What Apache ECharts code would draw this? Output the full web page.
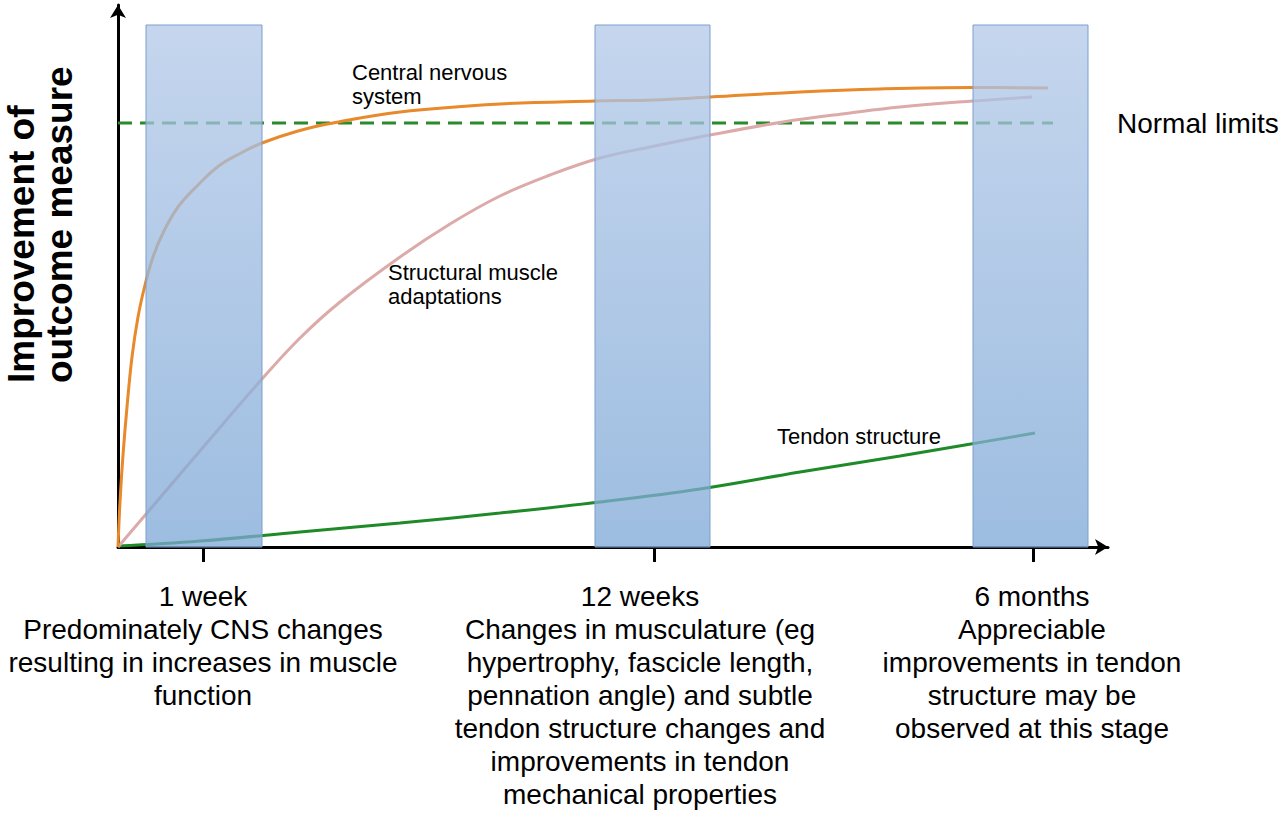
<!DOCTYPE html>
<html>
<head>
<meta charset="utf-8">
<script src="https://cdn.jsdelivr.net/npm/echarts@6/dist/echarts.min.js"></script>
<style>
  html, body { margin: 0; padding: 0; background: #fff; }
  #chart { width: 1280px; height: 819px; }
</style>
</head>
<body>
<div id="chart"></div>
<script>
// x in arbitrary time units (not linear in weeks), y = improvement of outcome measure
var tickValues = [8.5, 53.6, 91.5];
var labelValues = [8.5, 52.2, 91.4];
var tickLabels = [
  '1 week\nPredominately CNS changes\nresulting in increases in muscle\nfunction',
  '12 weeks\nChanges in musculature (eg\nhypertrophy, fascicle length,\npennation angle) and subtle\ntendon structure changes and\nimprovements in tendon\nmechanical properties',
  '6 months\nAppreciable\nimprovements in tendon\nstructure may be\nobserved at this stage'
];

// shaded periods: [start, end, top]
var bands = [
  [2.8, 14.4, 104.4],
  [47.7, 59.2, 104.4],
  [85.5, 97.0, 104.4]
];

var cnsX = [0, 0.2, 0.5, 0.9, 1.4, 2, 2.7, 3.5, 4.5, 6, 8, 10.2, 12.5, 14.4, 18, 21.5, 28.2, 38.2, 47.7, 53.6, 59.2, 68.2, 76.2, 85.5, 93];
var cnsY = [0, 9, 18.4, 28, 38, 46, 52.4, 58, 62.8, 68, 72.4, 76.4, 79, 80.8, 83.2, 84.8, 87, 88.6, 89.2, 89.4, 90, 91, 91.6, 91.9, 91.8];

var muscleX = [0, 2.9, 8.7, 14.4, 18.2, 22.2, 28.2, 33.2, 38.2, 43.2, 48.2, 53.2, 59.2, 66.5, 73.2, 78.2, 85.5, 91.4];
var muscleY = [0, 6.8, 20.4, 33.6, 41.8, 49, 58, 64.6, 70.2, 74.4, 77.8, 80, 82.4, 85, 86.8, 88, 89.2, 90];

var tendonX = [0, 8.2, 18.2, 28.2, 38.2, 48.2, 58.2, 68.2, 78.2, 84.7, 91.7];
var tendonY = [0.2, 1.2, 3, 4.8, 6.8, 9, 11.6, 15, 18.2, 20.4, 22.8];

var normalX = [0, 93.5];
var normalY = [84.8, 84.8];

function pairs(xs, ys) {
  return xs.map(function (x, i) { return [x, ys[i]]; });
}

var font = 'Liberation Sans, Arial, sans-serif';

var myChart = echarts.init(document.getElementById('chart'), null, { renderer: 'svg' });
var option = {
  animation: false,
  backgroundColor: '#fff',
  grid: { left: 118, top: 5, right: 172, bottom: 272 },
  xAxis: {
    type: 'value',
    min: 0,
    max: 99,
    splitLine: { show: false },
    axisLine: {
      lineStyle: { color: '#000', width: 3 },
      symbol: ['none', 'arrow'],
      symbolSize: [12, 13]
    },
    axisTick: {
      customValues: tickValues,
      length: 15,
      lineStyle: { color: '#000', width: 3 }
    },
    axisLabel: {
      customValues: labelValues,
      margin: 33,
      fontSize: 28,
      lineHeight: 33,
      color: '#000',
      fontFamily: font,
      align: 'center',
      formatter: function (v) {
        var best = 0;
        for (var i = 1; i < labelValues.length; i++) {
          if (Math.abs(labelValues[i] - v) < Math.abs(labelValues[best] - v)) best = i;
        }
        return tickLabels[best];
      }
    }
  },
  yAxis: {
    type: 'value',
    min: 0,
    max: 108.4,
    splitLine: { show: false },
    axisTick: { show: false },
    axisLabel: { show: false },
    axisLine: {
      show: true,
      lineStyle: { color: '#000', width: 3 },
      symbol: ['none', 'arrow'],
      symbolSize: [12, 13]
    }
  },
  graphic: [
    {
      type: 'text', x: 2, y: 383, rotation: Math.PI / 2,
      style: {
        text: 'Improvement of\noutcome measure',
        fontSize: 37, fontWeight: 'bold', fontFamily: font,
        lineHeight: 38, align: 'left', verticalAlign: 'top', fill: '#000'
      }
    },
    {
      type: 'text', x: 352, y: 60,
      style: { text: 'Central nervous\nsystem', fontSize: 22, lineHeight: 24, fontFamily: font, fill: '#000', verticalAlign: 'top' }
    },
    {
      type: 'text', x: 388, y: 260,
      style: { text: 'Structural muscle\nadaptations', fontSize: 22, lineHeight: 24, fontFamily: font, fill: '#000', verticalAlign: 'top' }
    },
    {
      type: 'text', x: 777, y: 424,
      style: { text: 'Tendon structure', fontSize: 22, lineHeight: 24, fontFamily: font, fill: '#000', verticalAlign: 'top' }
    }
  ],
  series: [
    {
      name: 'Normal limits',
      type: 'line',
      data: pairs(normalX, normalY),
      showSymbol: false,
      z: 2,
      lineStyle: { color: '#2b8a2b', width: 3, type: [14, 8] },
      endLabel: {
        show: true,
        formatter: 'Normal limits',
        distance: 64,
        fontSize: 28,
        color: '#000',
        fontFamily: font
      }
    },
    {
      name: 'Tendon structure',
      type: 'line',
      data: pairs(tendonX, tendonY),
      smooth: 0.4,
      showSymbol: false,
      z: 2,
      lineStyle: { color: '#1f8a28', width: 3 }
    },
    {
      name: 'Structural muscle adaptations',
      type: 'line',
      data: pairs(muscleX, muscleY),
      smooth: 0.4,
      showSymbol: false,
      z: 2,
      lineStyle: { color: '#dcaaa8', width: 3 }
    },
    {
      name: 'Central nervous system',
      type: 'line',
      data: pairs(cnsX, cnsY),
      smooth: 0.4,
      showSymbol: false,
      z: 2,
      lineStyle: { color: '#e8892b', width: 3 }
    },
    {
      name: 'Periods',
      type: 'custom',
      z: 5,
      data: bands,
      encode: { x: [0, 1], y: 2 },
      renderItem: function (params, api) {
        var p0 = api.coord([api.value(0), api.value(2)]);
        var p1 = api.coord([api.value(1), 0]);
        return {
          type: 'rect',
          shape: { x: p0[0], y: p0[1], width: p1[0] - p0[0], height: p1[1] - p0[1] },
          style: {
            fill: {
              type: 'linear', x: 0, y: 0, x2: 0, y2: 1,
              colorStops: [
                { offset: 0, color: 'rgba(178,200,232,0.75)' },
                { offset: 1, color: 'rgba(124,167,214,0.75)' }
              ]
            },
            stroke: '#7c9fcb',
            lineWidth: 1
          }
        };
      }
    }
  ]
};
myChart.setOption(option);
</script>
</body>
</html>
